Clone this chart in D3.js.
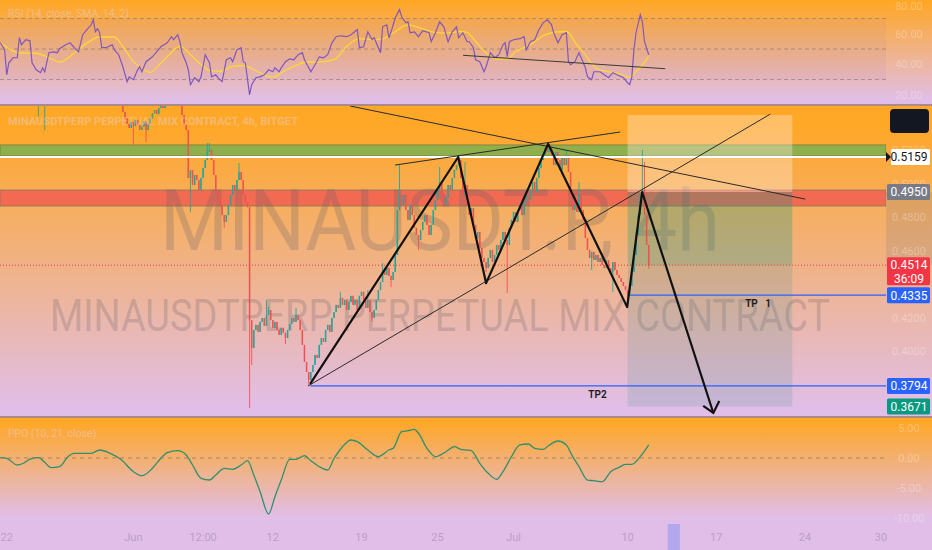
<!DOCTYPE html>
<html><head><meta charset="utf-8">
<script src="https://cdn.jsdelivr.net/npm/d3@7"></script>
<style>
html,body{margin:0;padding:0;background:#e1bee7;}
svg{display:block;}
text{font-family:Roboto,"Noto Sans",sans-serif;}
</style></head><body>
<svg id="c" width="932" height="550"></svg>
<script>
// ---------- DATA ----------
const firstCandle = new Date(2023,4,21,12); // 4h candles
const closes = [
0.556,0.552,0.558,0.561,0.557,0.554,0.559,0.563,0.560,0.556,
0.553,0.557,0.560,0.558,0.555,0.552,0.550,0.549,0.551,0.548,
0.550,0.552,0.549,0.553,0.556,0.559,0.562,0.560,0.564,0.567,
0.565,0.562,0.566,0.570,0.568,0.565,0.569,0.573,0.578,0.582,
0.579,0.576,0.571,0.568,0.572,0.570,0.566,0.563,0.567,0.565,
0.561,0.558,0.562,0.559,0.556,0.553,0.557,0.554,0.5427,0.539,
0.5356,0.5332,0.5368,0.5344,0.538,0.535,0.532,0.534,0.537,0.532,
0.5356,0.539,0.542,0.5439,0.5415,0.5451,0.5475,0.5451,0.5475,0.550,
0.5463,0.550,0.5523,0.550,0.553,0.550,0.541,0.535,0.532,0.5034,
0.508,0.4992,0.5052,0.5022,0.4962,0.5034,0.5093,0.5141,0.5189,0.5201,
0.5141,0.5052,0.4962,0.4903,0.4873,0.4813,0.4772,0.4813,0.4873,0.4933,
0.4992,0.4962,0.5022,0.5070,0.5022,0.4933,0.4890,0.4860,0.4187,0.4020,
0.4128,0.4158,0.4117,0.4176,0.4199,0.4152,0.4217,0.4247,0.4187,0.4140,
0.4176,0.4128,0.4098,0.4140,0.4111,0.4080,0.4128,0.4164,0.4199,0.4176,
0.4217,0.4187,0.4128,0.4039,0.3937,0.3877,0.3830,0.3877,0.3919,0.3979,
0.3961,0.4039,0.4080,0.4056,0.4128,0.4158,0.4117,0.4199,0.4235,0.4277,
0.4259,0.4319,0.4277,0.4307,0.4247,0.4295,0.4331,0.4277,0.4307,0.4247,
0.4331,0.4355,0.4307,0.4259,0.4307,0.4235,0.4199,0.4247,0.4307,0.4366,
0.4414,0.4485,0.4456,0.4497,0.4450,0.4426,0.4473,0.4575,0.4843,0.4933,
0.4873,0.4933,0.4843,0.4784,0.4873,0.4813,0.4736,0.4694,0.4664,0.4724,
0.4772,0.4813,0.4754,0.4694,0.4754,0.4843,0.4903,0.4962,0.5010,0.4933,
0.4873,0.4915,0.4992,0.4962,0.5034,0.5082,0.5111,0.5141,0.5034,0.4933,
0.4992,0.4873,0.4813,0.4855,0.4754,0.4676,0.4712,0.4617,0.4557,0.4533,
0.4497,0.4557,0.4605,0.4533,0.4575,0.4634,0.4605,0.4664,0.4712,0.4664,
0.4634,0.4736,0.4784,0.4831,0.4772,0.4843,0.4873,0.4813,0.4891,0.4933,
0.4903,0.4962,0.5010,0.4950,0.5034,0.5093,0.5141,0.5171,0.5213,0.5189,
0.5219,0.5153,0.5111,0.5189,0.5141,0.5082,0.5153,0.5111,0.5171,0.5070,
0.4933,0.4843,0.4873,0.4831,0.4933,0.4843,0.4784,0.4676,0.4605,0.4557,
0.4593,0.4545,0.4575,0.4533,0.4557,0.4515,0.4497,0.4545,0.4497,0.4473,
0.4533,0.4485,0.4456,0.4438,0.4414,0.4390,0.4366,0.4343,0.4390,0.4473,
0.4575,0.4694,0.4813,0.4933,0.4962,0.4813,0.4634,0.4514
];
// [candle index, high, low] for visible long wicks
const wicks = [
[18,null,0.540],[21,null,0.532],[63,null,0.5230],[69,null,0.5248],[90,null,0.4831],
[98,0.5242,null],[99,0.5242,null],[106,null,0.4736],[113,0.5123,null],[118,null,0.3663],
[119,null,0.3919],[126,0.4307,null],[127,0.4265,null],[135,null,0.4044],[140,0.4259,null],
[146,null,0.3794],[161,0.4355,null],[174,0.4366,null],[176,null,0.4176],[181,0.4527,null],
[185,null,0.4384],[189,0.5111,null],[198,null,0.4605],[208,0.5099,null],[217,0.5159,null],
[220,0.5129,null],[230,null,0.4473],[240,null,0.4348],[259,0.5242,null],[260,0.5230,null],
[268,0.5195,null],[274,0.5010,null],[280,null,0.4485],[290,null,0.4354],[297,null,0.4319],
[304,0.5201,null],[305,0.5129,null],[307,null,0.4493]
];
// RSI [candle index, value]
const rsiLine = [
[0,54.3],[2,49.5],[3,33.1],[4,41.0],[6,44.3],[8,44.3],[9,57.4],[10,52.8],[12,56.1],[14,55.4],
[15,41.0],[17,36.4],[19,34.5],[20,37.7],[21,35.1],[23,47.6],[25,48.2],[27,47.6],[28,50.2],[31,52.8],
[33,54.1],[35,50.9],[37,48.2],[39,59.4],[41,62.7],[43,65.9],[44,69.2],[45,61.3],[46,63.3],[47,60.7],
[48,50.9],[50,50.9],[53,52.8],[54,49.5],[56,46.3],[58,38.4],[60,28.6],[61,31.8],[63,29.9],[65,36.4],
[66,38.4],[67,35.1],[69,41.7],[72,44.9],[74,48.2],[76,51.5],[79,54.1],[81,58.1],[82,56.1],[84,59.4],
[85,54.8],[86,47.6],[88,41.0],[89,36.4],[90,26.6],[92,31.2],[94,28.6],[95,31.8],[97,46.3],[99,41.0],
[100,31.8],[102,33.1],[103,31.2],[105,28.6],[107,43.0],[109,44.3],[110,41.7],[112,49.5],[114,50.9],[115,41.7],
[116,41.0],[118,20.0],[119,26.6],[121,31.2],[123,31.8],[125,33.1],[127,36.4],[129,35.1],[130,37.7],[132,35.1],
[133,37.7],[135,41.7],[137,43.6],[139,43.0],[141,46.3],[143,47.6],[144,43.0],[146,37.7],[147,35.1],[149,39.7],
[151,44.9],[153,44.3],[155,46.3],[157,54.1],[159,58.1],[161,58.7],[164,58.1],[166,59.4],[169,62.7],[170,50.9],
[172,51.5],[174,61.3],[176,56.1],[177,57.4],[180,47.6],[181,64.6],[183,65.9],[184,57.4],[185,61.3],[187,70.5],
[189,75.8],[190,71.2],[192,67.2],[193,67.9],[194,60.7],[196,61.3],[198,58.1],[200,62.0],[203,60.7],[204,54.8],
[206,60.7],[208,67.9],[210,64.6],[212,54.8],[214,61.3],[216,64.6],[217,57.4],[219,60.7],[221,54.8],[222,54.8],
[224,50.9],[225,43.0],[227,41.7],[229,35.1],[230,38.4],[232,47.6],[234,44.3],[236,46.3],[238,52.8],[239,54.1],
[240,45.0],[241,54.8],[243,56.1],[246,56.8],[248,58.1],[249,49.5],[251,54.8],[253,56.1],[255,62.7],[257,67.2],
[259,69.2],[261,65.9],[262,60.7],[264,54.1],[266,59.4],[268,60.7],[269,41.7],[270,39.7],[272,41.7],[274,47.6],
[275,44.3],[277,37.7],[278,31.8],[280,29.9],[281,35.1],[284,35.1],[286,33.1],[288,31.2],[290,34.5],[292,33.1],
[295,31.2],[297,27.9],[298,26.6],[299,31.8],[300,49.5],[301,60.7],[303,72.5],[304,67.9],[305,54.8],[307,46.3]
];
const rsiSma = [
[0,54.3],[5,49.5],[9,47.4],[16,47.4],[22,45.1],[28,41.5],[35,47.4],[41,53.9],[47,57.9],[54,57.9],
[58,51.7],[63,41.9],[68,36.4],[71,34.7],[76,40.8],[80,46.3],[85,51.7],[90,46.3],[95,39.7],[99,36.0],
[104,35.3],[110,38.6],[115,39.2],[120,36.4],[125,33.1],[129,31.6],[134,35.3],[139,38.6],[145,41.5],[151,41.5],
[158,43.0],[164,51.7],[170,56.8],[177,56.1],[181,56.6],[186,60.5],[193,65.9],[199,63.8],[205,61.1],[211,60.5],
[218,61.5],[221,61.0],[225,55.0],[230,47.4],[235,43.4],[240,43.4],[244,48.4],[251,52.8],[257,58.7],[263,61.1],
[268,61.5],[273,52.8],[277,46.3],[282,37.5],[287,35.3],[293,33.8],[298,31.6],[301,35.3],[304,39.7],[307,45.1]
];
const rsiTrend = [[219.1,45.9],[314.8,37.1]];
// PPO [candle index, value]
const ppoLine = [
[0,0.05],[3,-0.05],[8,-1.17],[11,-0.88],[14,-0.17],[18,0.05],[21,-0.72],[24,-1.62],[28,-1.45],[32,0.22],
[35,0.78],[43,0.78],[47,1.33],[52,0.78],[57,-0.22],[63,-2.28],[67,-2.95],[72,-1.72],[76,-0.05],[79,0.88],
[84,1.22],[88,0.5],[91,-1.17],[95,-3.38],[99,-3.67],[102,-2.83],[106,-1.72],[110,-1.88],[114,-1.17],[117,-0.45],
[120,-2.83],[123,-5.62],[127,-9.33],[130,-6.45],[133,-3.67],[137,-0.22],[140,-0.22],[144,0.38],[147,-0.45],[151,-1.45],
[155,-2.0],[158,-0.05],[162,1.88],[166,3.0],[169,2.72],[174,1.33],[179,0.22],[184,1.33],[186,1.62],[190,4.38],
[193,4.55],[196,4.78],[198,4.12],[202,1.62],[206,0.22],[211,1.05],[215,1.88],[218,1.45],[221,1.33],[223,1.22],
[227,-0.88],[231,-2.55],[235,-3.55],[238,-2.28],[242,0.22],[246,2.17],[250,2.33],[253,1.62],[257,1.45],[260,2.17],
[264,2.83],[268,2.17],[271,0.22],[274,-1.45],[278,-3.67],[281,-3.78],[285,-3.95],[289,-2.28],[293,-1.55],[296,-1.05],
[299,-1.05],[303,0.22],[307,2.17]
];
const timeTicks = [
[new Date(2023,4,22),'22'],[new Date(2023,5,1),'Jun'],[new Date(2023,5,6,12),'12:00'],
[new Date(2023,5,12),'12'],[new Date(2023,5,19),'19'],[new Date(2023,5,25),'25'],
[new Date(2023,6,1),'Jul'],[new Date(2023,6,10),'10'],[new Date(2023,6,17),'17'],
[new Date(2023,6,24),'24'],[new Date(2023,6,30),'30']
];
const priceTicks = [0.52,0.50,0.48,0.46,0.42,0.40];
const rsiTicks = [80,60,40,20];
const rsiLevels = [70,50,30];
const ppoTicks = [5,0,-5,-10];
const greenZone = [0.5231,0.5165];
const redZone = [0.4962,0.4867];
const whiteLevel = 0.5159;
const lastPrice = 0.4514;
const countdown = '36:09';
const tp1 = {p:0.4335, from:297.3};
const tp2 = {p:0.3794, from:146.8};
const position = {t0:new Date(2023,6,10,0), t1:new Date(2023,6,23,0), stop:0.5409, entry:0.4950, target:0.3671};
const zigzag = [[146.7,0.3806],[216.8,0.5159],[230.0,0.4407],[259.4,0.5237],[296.8,0.4264],[303.9,0.4950],[337.6,0.3633]];
const arrowHead = [[332.8,0.3675],[337.6,0.3633],[340.4,0.3705]];
const trendLines = [
 [[165.6,0.5463],[381.1,0.4908]],
 [[186.9,0.5111],[293.5,0.5308]],
 [[145.7,0.3794],[364.6,0.5415]]
];
const notes = [{text:'TP   1', i:352.7, p:0.4265},{text:'TP2', i:278.4, p:0.3723}];
const cursorSpan = [new Date(2023,6,13,4), new Date(2023,6,14,3)];

// ---------- LAYOUT ----------
const W=932, PW=886;
const P1={y0:0,y1:104}, P2={y0:106,y1:416}, P3={y0:418,y1:522};
const svg=d3.select('#c');
const defs=svg.append('defs');
const xs=d3.scaleTime().domain([new Date(2023,4,22), new Date(2023,6,24)]).range([6.7,805]);
const tAt=i=>new Date(firstCandle.getTime()+i*4*3600e3);
const X=i=>xs(tAt(i));
const yP=d3.scaleLinear().domain([0.3615,0.5463]).range([416,106]);
const yR=d3.scaleLinear().domain([20,80]).range([94.8,3.3]);
const yO=d3.scaleLinear().domain([-10,5]).range([518,428]);

// backgrounds
svg.append('rect').attr('x',0).attr('y',0).attr('width',W).attr('height',550).attr('fill','#e1bee7');
[['g1',P1,0.02,0.96],['g2',P2,0.06,0.97],['g3',P3,0.03,0.95]].forEach(([id,p,a,b])=>{
  const g=defs.append('linearGradient').attr('id',id).attr('x1',0).attr('y1',0).attr('x2',0).attr('y2',1);
  g.append('stop').attr('offset',a).attr('stop-color','#FFA726');
  g.append('stop').attr('offset',b).attr('stop-color','#E1BEE7');
  svg.append('rect').attr('x',0).attr('y',p.y0).attr('width',W).attr('height',p.y1-p.y0).attr('fill',`url(#${id})`);
});
defs.append('clipPath').attr('id','cm').append('rect').attr('x',0).attr('y',P2.y0).attr('width',PW).attr('height',P2.y1-P2.y0);
defs.append('clipPath').attr('id','cr').append('rect').attr('x',0).attr('y',P1.y0).attr('width',PW).attr('height',P1.y1-P1.y0);

// separators
[105,417].forEach(y=>svg.append('line').attr('x1',0).attr('x2',W).attr('y1',y).attr('y2',y).attr('stroke','#9a7864').attr('stroke-width',1.6));

const faint='rgba(255,255,255,0.3)';
// ---------- RSI ----------
const gr=svg.append('g').attr('clip-path','url(#cr)');
gr.append('rect').attr('x',0).attr('width',PW).attr('y',yR(70)).attr('height',yR(30)-yR(70)).attr('fill','rgba(126,87,194,0.05)');
rsiLevels.forEach(v=>gr.append('line').attr('x1',0).attr('x2',PW).attr('y1',yR(v)).attr('y2',yR(v))
  .attr('stroke','rgba(120,110,110,0.55)').attr('stroke-dasharray','4 3'));
const lR=d3.line().x(d=>X(d[0])).y(d=>yR(d[1]));
gr.append('path').datum(rsiSma).attr('d',lR.curve(d3.curveMonotoneX)).attr('fill','none').attr('stroke','#FDD835').attr('stroke-width',1.3);
gr.append('path').datum(rsiLine).attr('d',d3.line().x(d=>X(d[0])).y(d=>yR(d[1]))).attr('fill','none').attr('stroke','#7E57C2').attr('stroke-width',1.2);
gr.append('path').datum(rsiTrend).attr('d',d3.line().x(d=>X(d[0])).y(d=>yR(d[1]))).attr('stroke','#3a3a3a').attr('stroke-width',1);
svg.append('text').attr('x',8).attr('y',17).attr('font-size',10.5).attr('fill','rgba(225,215,235,0.45)').text('RSI (14, close, SMA, 14, 2)');
rsiTicks.forEach(v=>svg.append('text').attr('x',909).attr('y',Math.max(10,yR(v)+4)).attr('text-anchor','middle').attr('font-size',11).attr('fill',faint).text(v.toFixed(2)));

// ---------- MAIN ----------
const gm=svg.append('g').attr('clip-path','url(#cm)');
gm.append('rect').attr('x',0).attr('width',PW).attr('y',yP(greenZone[0])).attr('height',yP(greenZone[1])-yP(greenZone[0]))
  .attr('fill','#8fae4c').attr('stroke','rgba(110,120,60,0.7)');
gm.append('rect').attr('x',0).attr('width',PW).attr('y',yP(redZone[0])).attr('height',yP(redZone[1])-yP(redZone[0]))
  .attr('fill','#F26A52').attr('stroke','rgba(130,120,90,0.8)');
// watermarks
gm.append('text').attr('x',440).attr('y',250).attr('text-anchor','middle').attr('font-family','"Open Sans",sans-serif')
  .attr('font-size',86).attr('textLength',560).attr('lengthAdjust','spacingAndGlyphs').attr('fill','rgba(105,95,105,0.26)').text('MINAUSDT.P, 4h');
gm.append('text').attr('x',440).attr('y',331).attr('text-anchor','middle').attr('font-family','"Open Sans",sans-serif')
  .attr('font-size',44).attr('textLength',780).attr('lengthAdjust','spacingAndGlyphs').attr('fill','rgba(105,95,105,0.26)').text('MINAUSDTPERP PERPETUAL MIX CONTRACT');
// position tool
const px0=xs(position.t0), px1=xs(position.t1);
gm.append('rect').attr('x',px0).attr('width',px1-px0).attr('y',yP(position.stop)).attr('height',yP(position.entry)-yP(position.stop)).attr('fill','rgba(255,238,225,0.35)');
gm.append('rect').attr('x',px0).attr('width',px1-px0).attr('y',yP(position.entry)).attr('height',yP(lastPrice)-yP(position.entry)).attr('fill','rgba(8,153,129,0.27)');
gm.append('rect').attr('x',px0).attr('width',px1-px0).attr('y',yP(lastPrice)).attr('height',yP(position.target)-yP(lastPrice)).attr('fill','rgba(60,140,140,0.17)');
// candles
const wmap=new Map(wicks.map(w=>[w[0],w]));
const cd=closes.map((c,i)=>{const o=i?closes[i-1]:c;let h=Math.max(o,c),l=Math.min(o,c);const w=wmap.get(i);if(w){if(w[1]!=null)h=w[1];if(w[2]!=null)l=w[2];}return {i,o,h,l,c};});
const gc=gm.append('g');
gc.selectAll('line').data(cd).join('line').attr('x1',d=>X(d.i)).attr('x2',d=>X(d.i)).attr('y1',d=>yP(d.h)).attr('y2',d=>yP(d.l))
  .attr('stroke',d=>d.c>=d.o?'#26a69a':'#ef5350').attr('stroke-width',0.9);
gc.selectAll('rect').data(cd).join('rect').attr('x',d=>X(d.i)-0.75).attr('width',1.5)
  .attr('y',d=>yP(Math.max(d.o,d.c))).attr('height',d=>Math.max(0.8,Math.abs(yP(d.o)-yP(d.c))))
  .attr('fill',d=>d.c>=d.o?'#26a69a':'#ef5350');
// levels
gm.append('line').attr('x1',0).attr('x2',PW).attr('y1',yP(lastPrice)).attr('y2',yP(lastPrice)).attr('stroke','#F23645').attr('stroke-dasharray','1 2').attr('stroke-width',1);
gm.append('line').attr('x1',0).attr('x2',PW).attr('y1',yP(whiteLevel)).attr('y2',yP(whiteLevel)).attr('stroke','#ffffff').attr('stroke-width',2);
[tp1,tp2].forEach(t=>gm.append('line').attr('x1',X(t.from)).attr('x2',PW).attr('y1',yP(t.p)).attr('y2',yP(t.p)).attr('stroke','#2962FF').attr('stroke-width',1.3));
const lP=d3.line().x(d=>X(d[0])).y(d=>yP(d[1]));
trendLines.forEach(t=>gm.append('path').attr('d',lP(t)).attr('stroke','#2a2a2a').attr('stroke-width',1).attr('fill','none'));
gm.append('path').attr('d',lP(zigzag)).attr('stroke','#111').attr('stroke-width',2.2).attr('fill','none').attr('stroke-linejoin','round');
gm.append('path').attr('d',lP(arrowHead)).attr('stroke','#111').attr('stroke-width',2.2).attr('fill','none');
notes.forEach(n=>gm.append('text').attr('x',X(n.i)).attr('y',yP(n.p)).attr('font-size',10).attr('font-weight',600).attr('fill','#1a1a1a').style('white-space','pre').text(n.text));
svg.append('text').attr('x',8).attr('y',125).attr('font-size',10.5).attr('font-weight',700).attr('textLength',290).attr('lengthAdjust','spacingAndGlyphs')
  .attr('fill','rgba(225,215,235,0.4)').text('MINAUSDTPERP PERPETUAL MIX CONTRACT, 4h, BITGET');

// price axis
svg.append('rect').attr('x',PW).attr('width',W-PW).attr('y',yP(position.entry)).attr('height',yP(lastPrice)-yP(position.entry)).attr('fill','rgba(110,110,125,0.18)');
priceTicks.forEach(v=>svg.append('text').attr('x',909).attr('y',yP(v)+4).attr('text-anchor','middle').attr('font-size',11).attr('fill',faint).text(v.toFixed(4)));
svg.append('rect').attr('x',890).attr('y',109).attr('width',39).attr('height',24).attr('rx',4).attr('fill','#131722');
function tag(p,bg,fg,txt,x0){
  const y=yP(p);
  svg.append('rect').attr('x',x0||887).attr('y',y-8).attr('width',930-(x0||887)).attr('height',16).attr('rx',1.5).attr('fill',bg);
  svg.append('text').attr('x',909).attr('y',y+4.3).attr('text-anchor','middle').attr('font-size',12).attr('fill',fg).text(txt);
}
tag(whiteLevel,'#ffffff','#131722',whiteLevel.toFixed(4),891);
svg.append('path').attr('d',`M886,${yP(whiteLevel)-5}L891,${yP(whiteLevel)}L886,${yP(whiteLevel)+5}Z`).attr('fill','#131722');
tag(position.entry,'#787B86','#ffffff',position.entry.toFixed(4));
{const y=yP(lastPrice);
 svg.append('rect').attr('x',887).attr('y',y-8).attr('width',43).attr('height',28).attr('rx',1.5).attr('fill','#F23645');
 svg.append('text').attr('x',909).attr('y',y+4.3).attr('text-anchor','middle').attr('font-size',12).attr('fill','#fff').text(lastPrice.toFixed(4));
 svg.append('text').attr('x',909).attr('y',y+18).attr('text-anchor','middle').attr('font-size',12).attr('fill','#fff').text(countdown);}
tag(tp1.p,'#2962FF','#ffffff',tp1.p.toFixed(4));
tag(tp2.p,'#2962FF','#ffffff',tp2.p.toFixed(4));
tag(position.target,'#089981','#ffffff',position.target.toFixed(4));

// ---------- PPO ----------
svg.append('line').attr('x1',0).attr('x2',PW).attr('y1',yO(0)).attr('y2',yO(0)).attr('stroke','rgba(120,95,85,0.55)').attr('stroke-dasharray','4 4');
svg.append('path').datum(ppoLine).attr('d',d3.line().x(d=>X(d[0])).y(d=>yO(d[1])).curve(d3.curveMonotoneX)).attr('fill','none').attr('stroke','#2f8f6f').attr('stroke-width',1.3);
svg.append('text').attr('x',8).attr('y',437).attr('font-size',10.5).attr('fill','rgba(225,215,235,0.45)').text('PPO (10, 21, close)');
ppoTicks.forEach(v=>svg.append('text').attr('x',909).attr('y',yO(v)+4).attr('text-anchor','middle').attr('font-size',11).attr('fill',faint).text(v.toFixed(2)));

// ---------- TIME AXIS ----------
svg.append('rect').attr('x',xs(cursorSpan[0])).attr('width',xs(cursorSpan[1])-xs(cursorSpan[0])).attr('y',524).attr('height',26).attr('fill','#B3A7EE');
timeTicks.forEach(([t,l])=>svg.append('text').attr('x',xs(t)).attr('y',541).attr('text-anchor','middle').attr('font-size',11).attr('fill','rgba(150,130,165,0.55)').text(l));
</script></body></html>
